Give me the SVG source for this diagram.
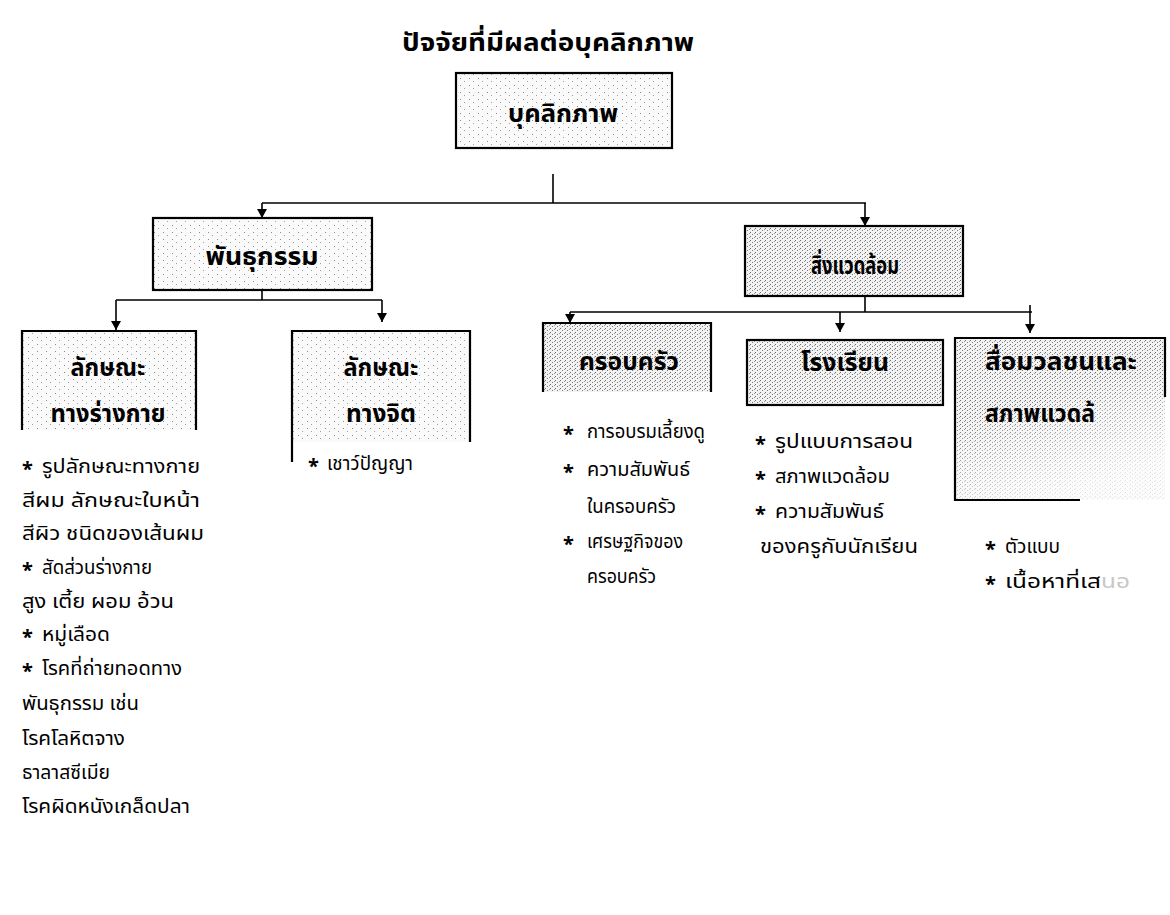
<svg xmlns="http://www.w3.org/2000/svg" width="1170" height="915" viewBox="0 0 1170 915">
<defs>
<pattern id="dotsL" width="9" height="7" patternUnits="userSpaceOnUse">
<rect width="9" height="7" fill="#fafafa"/>
<rect x="1" y="1" width="1" height="1" fill="#8a8a8a"/>
<rect x="5" y="4" width="1" height="1" fill="#a0a0a0"/>
</pattern>
<pattern id="dotsD" width="5" height="4" patternUnits="userSpaceOnUse">
<rect width="5" height="4" fill="#f2f2f2"/>
<rect x="0" y="0" width="1" height="1" fill="#6e6e6e"/>
<rect x="2" y="2" width="1" height="1" fill="#7a7a7a"/>
<rect x="4" y="1" width="1" height="1" fill="#9a9a9a"/>
</pattern>
<linearGradient id="fade" x1="0" y1="0" x2="0.4" y2="1">
<stop offset="0" stop-color="#fff"/>
<stop offset="0.45" stop-color="#fff"/>
<stop offset="1" stop-color="#333"/>
</linearGradient>
<mask id="fadeMask" maskUnits="userSpaceOnUse" x="955" y="338" width="210" height="162">
<rect x="955" y="338" width="210" height="162" fill="url(#fade)"/>
</mask>
<marker id="arr" markerUnits="userSpaceOnUse" markerWidth="9" markerHeight="10" refX="9" refY="5" orient="auto">
<path d="M0,0 L9,5 L0,10 z" fill="#000"/>
</marker>
<style>
.box{stroke:#000;stroke-width:2.2;}
.side{fill:none;stroke:#000;stroke-width:2.2;}
.c{fill:none;stroke:#000;stroke-width:1.6;}
.t{font-family:"Noto Sans Thai","Noto Serif Thai","Tlwg Typo","Loma","Garuda","Norasi","DejaVu Sans",sans-serif;fill:#000;}
.h{font-weight:bold;font-size:25px;text-anchor:middle;}
.l{font-size:19px;}
.a{font-size:20px;font-weight:bold;}
.faint{fill:#c8c8c8;}
</style>
</defs>
<rect width="1170" height="915" fill="#fff"/>

<text class="t h" x="548" y="51" textLength="292" lengthAdjust="spacingAndGlyphs">ปัจจัยที่มีผลต่อบุคลิกภาพ</text>

<g id="connectors">
<path class="c" d="M553,174 V203"/>
<path class="c" d="M262,203 H866"/>
<path class="c" d="M262,203 V218" marker-end="url(#arr)"/>
<path class="c" d="M865,203 V226" marker-end="url(#arr)"/>
<path class="c" d="M262,290 V300 M116,300 H382"/>
<path class="c" d="M116,300 V330" marker-end="url(#arr)"/>
<path class="c" d="M382,300 V322" marker-end="url(#arr)"/>
<path class="c" d="M865,296 V312 M570,312 H1032"/>
<path class="c" d="M570,312 V323" marker-end="url(#arr)"/>
<path class="c" d="M840,312 V332" marker-end="url(#arr)"/>
<path class="c" d="M1030,305 V333" marker-end="url(#arr)"/>
</g>

<g id="n-personality">
<rect class="box" x="456" y="73" width="216" height="75" fill="url(#dotsL)"/>
<text class="t h" x="563" y="122" textLength="110" lengthAdjust="spacingAndGlyphs">บุคลิกภาพ</text>
</g>

<g id="n-heredity">
<rect class="box" x="153" y="218" width="219" height="72" fill="url(#dotsL)"/>
<text class="t h" x="262" y="265" textLength="113" lengthAdjust="spacingAndGlyphs">พันธุกรรม</text>
</g>

<g id="n-environment">
<rect class="box" x="745" y="226" width="218" height="70" fill="url(#dotsD)"/>
<text class="t h" x="855" y="274" textLength="88" lengthAdjust="spacingAndGlyphs">สิ่งแวดล้อม</text>
</g>

<g id="n-physical">
<rect x="22" y="331" width="174" height="99" fill="url(#dotsL)"/>
<path class="side" d="M22,430 V331 H196 V430"/>
<text class="t h" x="108" y="376" textLength="75" lengthAdjust="spacingAndGlyphs">ลักษณะ</text>
<text class="t h" x="108" y="422" textLength="115" lengthAdjust="spacingAndGlyphs">ทางร่างกาย</text>
<text class="t a" x="22" y="476">*</text>
<text class="t l" x="42" y="473" textLength="158" lengthAdjust="spacingAndGlyphs">รูปลักษณะทางกาย</text>
<text class="t l" x="22" y="507" textLength="178" lengthAdjust="spacingAndGlyphs">สีผม ลักษณะใบหน้า</text>
<text class="t l" x="22" y="540" textLength="182" lengthAdjust="spacingAndGlyphs">สีผิว  ชนิดของเส้นผม</text>
<text class="t a" x="22" y="577">*</text>
<text class="t l" x="42" y="574" textLength="110" lengthAdjust="spacingAndGlyphs">สัดส่วนร่างกาย</text>
<text class="t l" x="22" y="608" textLength="152" lengthAdjust="spacingAndGlyphs">สูง เตี้ย  ผอม  อ้วน</text>
<text class="t a" x="22" y="644">*</text>
<text class="t l" x="42" y="641" textLength="68" lengthAdjust="spacingAndGlyphs">หมู่เลือด</text>
<text class="t a" x="22" y="678">*</text>
<text class="t l" x="42" y="675" textLength="140" lengthAdjust="spacingAndGlyphs">โรคที่ถ่ายทอดทาง</text>
<text class="t l" x="22" y="710" textLength="117" lengthAdjust="spacingAndGlyphs">พันธุกรรม เช่น</text>
<text class="t l" x="22" y="745" textLength="103" lengthAdjust="spacingAndGlyphs">โรคโลหิตจาง</text>
<text class="t l" x="22" y="779" textLength="88" lengthAdjust="spacingAndGlyphs">ธาลาสซีเมีย</text>
<text class="t l" x="22" y="813" textLength="168" lengthAdjust="spacingAndGlyphs">โรคผิดหนังเกล็ดปลา</text>
</g>

<g id="n-mental">
<rect x="292" y="331" width="178" height="111" fill="url(#dotsL)"/>
<path class="side" d="M292,462 V331 H470 V442"/>
<text class="t h" x="381" y="376" textLength="75" lengthAdjust="spacingAndGlyphs">ลักษณะ</text>
<text class="t h" x="381" y="422" textLength="70" lengthAdjust="spacingAndGlyphs">ทางจิต</text>
<text class="t a" x="308" y="473">*</text>
<text class="t l" x="327" y="470" textLength="86" lengthAdjust="spacingAndGlyphs">เชาว์ปัญญา</text>
</g>

<g id="n-family">
<rect x="543" y="323" width="168" height="69" fill="url(#dotsD)"/>
<path class="side" d="M543,392 V323 H711 V392"/>
<text class="t h" x="629" y="370" textLength="100" lengthAdjust="spacingAndGlyphs">ครอบครัว</text>
<text class="t a" x="563" y="441">*</text>
<text class="t l" x="587" y="438" textLength="118" lengthAdjust="spacingAndGlyphs">การอบรมเลี้ยงดู</text>
<text class="t a" x="563" y="479">*</text>
<text class="t l" x="587" y="476" textLength="103" lengthAdjust="spacingAndGlyphs">ความสัมพันธ์</text>
<text class="t l" x="587" y="513" textLength="89" lengthAdjust="spacingAndGlyphs">ในครอบครัว</text>
<text class="t a" x="563" y="551">*</text>
<text class="t l" x="587" y="548" textLength="96" lengthAdjust="spacingAndGlyphs">เศรษฐกิจของ</text>
<text class="t l" x="587" y="583" textLength="69" lengthAdjust="spacingAndGlyphs">ครอบครัว</text>
</g>

<g id="n-school">
<rect class="box" x="747" y="340" width="196" height="65" fill="url(#dotsD)"/>
<text class="t h" x="845" y="371" textLength="88" lengthAdjust="spacingAndGlyphs">โรงเรียน</text>
<text class="t a" x="755" y="451">*</text>
<text class="t l" x="775" y="448" textLength="138" lengthAdjust="spacingAndGlyphs">รูปแบบการสอน</text>
<text class="t a" x="755" y="486">*</text>
<text class="t l" x="775" y="483" textLength="115" lengthAdjust="spacingAndGlyphs">สภาพแวดล้อม</text>
<text class="t a" x="755" y="521">*</text>
<text class="t l" x="775" y="518" textLength="109" lengthAdjust="spacingAndGlyphs">ความสัมพันธ์</text>
<text class="t l" x="760" y="553" textLength="158" lengthAdjust="spacingAndGlyphs">ของครูกับนักเรียน</text>
</g>

<g id="n-media">
<rect x="955" y="338" width="210" height="162" fill="url(#dotsD)" mask="url(#fadeMask)"/>
<path class="side" d="M1080,500 H955 V338 H1165 V397"/>
<text class="t h" x="1061" y="370" textLength="152" lengthAdjust="spacingAndGlyphs">สื่อมวลชนและ</text>
<text class="t h" x="985" y="422" style="text-anchor:start" textLength="110" lengthAdjust="spacingAndGlyphs">สภาพแวดล้</text>
<text class="t a" x="985" y="556">*</text>
<text class="t l" x="1005" y="553" textLength="55" lengthAdjust="spacingAndGlyphs">ตัวแบบ</text>
<text class="t a" x="985" y="591">*</text>
<text class="t l" x="1005" y="588" textLength="125" lengthAdjust="spacingAndGlyphs">เนื้อหาที่เส<tspan class="faint">นอ</tspan></text>
</g>
</svg>
